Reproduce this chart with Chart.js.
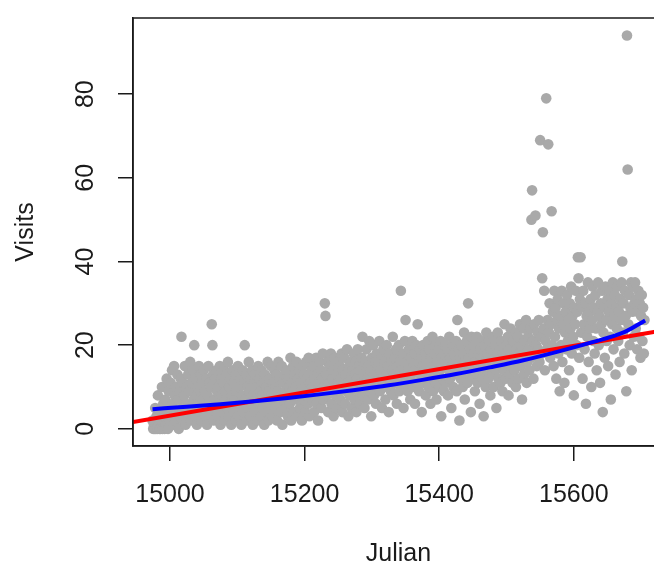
<!DOCTYPE html>
<html>
<head>
<meta charset="utf-8">
<script src="https://cdn.jsdelivr.net/npm/chart.js@4.4.1/dist/chart.umd.min.js"></script>
<style>
  body { margin: 0; overflow: hidden; background: #fff; }
  canvas { display: block; }
</style>
</head>
<body>
<canvas id="visits" width="680" height="567"></canvas>
<script>
// daily visits, first value is Julian day 14974
var firstDay = 14974;
var visits = [
  2,0,1,0,5,0,3,0,8,1,0,4,0,2,10,0,6,3,
  0,7,1,12,4,0,9,2,5,11,3,14,6,1,15,8,2,10,4,13,
  7,0,9,3,12,22,5,11,2,8,15,1,6,10,4,13,3,9,16,2,
  11,5,14,7,20,3,12,8,1,10,6,15,4,9,13,2,11,7,14,5,
  9,3,12,1,8,15,6,11,4,10,25,20,13,2,7,12,5,14,9,3,
  10,6,15,1,12,8,4,11,14,2,9,7,13,5,16,3,10,6,12,1,
  8,14,4,11,7,2,13,9,5,15,3,10,6,12,1,8,14,4,11,20,
  7,13,2,10,5,16,9,3,12,6,14,1,8,11,4,13,7,10,2,15,
  6,12,9,3,14,8,5,11,1,13,7,10,4,16,2,9,12,6,15,8,
  3,11,7,14,5,10,13,2,9,16,6,12,4,8,15,1,11,7,13,9,
  5,14,8,3,12,10,6,17,2,11,9,15,4,13,7,10,16,3,12,8,
  14,5,11,9,2,15,7,13,10,4,16,8,12,6,17,3,11,9,14,7,
  10,15,4,12,8,17,6,13,2,11,16,9,14,5,12,18,7,10,30,27,
  13,8,16,4,11,15,9,18,6,12,14,3,10,17,8,13,5,16,11,9,
  15,7,12,18,4,14,10,17,6,13,9,19,11,3,15,8,16,12,5,14,
  10,18,7,13,16,4,12,19,9,15,6,14,11,17,22,8,13,5,16,10,
  19,12,7,15,21,9,14,3,17,11,20,8,13,16,6,18,10,15,12,21,
  9,14,17,5,12,19,11,16,7,13,20,10,15,4,18,12,9,16,14,22,
  8,13,17,11,19,6,15,12,20,9,16,33,14,10,18,5,13,21,26,11,
  16,9,14,19,12,7,17,13,21,10,15,18,6,14,20,11,25,16,9,19,
  13,17,4,15,20,11,14,18,8,16,12,21,10,19,14,6,17,13,22,9,
  15,18,11,20,7,16,13,19,10,14,21,3,17,12,18,9,15,20,11,16,
  19,8,14,22,12,17,5,15,20,10,18,13,16,21,9,26,14,19,2,17,
  12,20,15,10,18,23,7,16,13,21,11,30,17,14,19,4,22,15,12,18,
  20,9,16,13,22,11,18,15,6,19,14,21,12,17,3,20,16,10,23,14,
  18,12,21,15,8,19,16,13,22,10,17,20,14,5,18,23,12,16,19,11,
  21,15,9,18,14,25,17,12,20,16,22,8,19,13,24,15,18,11,21,17,
  14,23,10,19,16,22,12,18,25,15,20,7,17,24,13,21,18,26,11,16,
  22,19,14,24,17,50,57,21,12,25,18,51,20,15,23,19,26,16,69,22,
  18,36,47,24,33,14,21,79,19,26,68,23,30,17,25,52,20,28,15,33,
  22,29,12,26,31,18,24,9,27,20,33,16,25,30,11,23,28,19,32,21,
  26,14,30,24,34,18,27,22,8,29,25,33,20,28,41,36,17,31,41,23,
  29,12,33,25,19,30,6,27,22,35,16,28,24,31,10,26,34,21,29,18,
  32,24,14,28,35,20,27,11,30,25,33,4,23,29,17,34,26,21,31,15,
  28,33,22,7,30,25,35,19,27,32,13,29,24,34,21,28,16,31,26,35,
  40,23,30,18,33,27,9,94,62,25,32,20,29,35,14,28,34,22,30,35,
  24,31,19,28,33,22,30,17,27,32,21,29,18,26
];

// linear fit (red), ends at the plot edges
var redDays = [14945, 15734];
var redVals = [1.6, 23.6];

// smooth fit (blue)
var blueDays = [14974, 15025, 15075, 15125, 15175, 15225, 15275, 15325, 15375, 15425, 15475, 15525, 15575, 15625, 15675, 15706];
var blueVals = [4.7, 5.3, 5.9, 6.6, 7.4, 8.3, 9.3, 10.4, 11.7, 13.1, 14.7, 16.4, 18.4, 20.6, 23.1, 25.9];

var xTicks = [15000, 15200, 15400, 15600];
var yTicks = [0, 20, 40, 60, 80];

var FONT = "'Liberation Sans', Arial, sans-serif";
var INK = '#1a1a1a';

var points = visits.map(function (v, i) { return { x: firstDay + i, y: v }; });
var red = redDays.map(function (d, i) { return { x: d, y: redVals[i] }; });
var blue = blueDays.map(function (d, i) { return { x: d, y: blueVals[i] }; });

// box round the plot + rotated y tick labels, like base R
var rFrame = {
    id: 'rFrame',
    afterDraw: function (chart) {
        var c = chart.ctx, a = chart.chartArea;
        c.save();
        c.strokeStyle = INK;
        c.lineWidth = 1.5;
        c.strokeRect(a.left, a.top, a.right - a.left, a.bottom - a.top);
        var ys = chart.scales.y;
        c.fillStyle = INK;
        c.font = '25px ' + FONT;
        c.textAlign = 'center';
        c.textBaseline = 'middle';
        yTicks.forEach(function (t) {
            c.save();
            c.translate(86, ys.getPixelForValue(t));
            c.rotate(-Math.PI / 2);
            c.fillText(String(t), 0, 0);
            c.restore();
        });
        c.restore();
    }
};

var ctx = document.getElementById('visits').getContext('2d');
var myChart = new Chart(ctx, {
    type: 'scatter',
    data: {
        datasets: [{
            label: 'Visits',
            data: points,
            backgroundColor: '#A9A9A9',
            borderWidth: 0,
            pointRadius: 5.3,
            pointHoverRadius: 5.3,
            order: 3
        }, {
            label: 'linear',
            type: 'line',
            data: red,
            borderColor: '#FF0000',
            borderWidth: 4,
            pointRadius: 0,
            fill: false,
            order: 2
        }, {
            label: 'smooth',
            type: 'line',
            data: blue,
            borderColor: '#0000FF',
            borderWidth: 4,
            pointRadius: 0,
            fill: false,
            cubicInterpolationMode: 'monotone',
            order: 1
        }]
    },
    options: {
        responsive: false,
        animation: false,
        devicePixelRatio: 1,
        layout: { padding: { left: 0, top: 7, right: 16, bottom: 0 } },
        plugins: { legend: { display: false }, tooltip: { enabled: false } },
        scales: {
            x: {
                type: 'linear',
                min: 14945,
                max: 15734,
                afterBuildTicks: function (s) { s.ticks = xTicks.map(function (v) { return { value: v }; }); },
                afterFit: function (s) { s.height = 121; },
                grid: { drawOnChartArea: false, tickLength: 15, color: INK, lineWidth: 1.5 },
                border: { display: true, color: INK, width: 1.5 },
                ticks: {
                    color: INK, font: { family: FONT, size: 25 }, padding: 19, maxRotation: 0,
                    callback: function (v) { return String(v); }
                },
                title: { display: true, text: 'Julian', color: INK, font: { family: FONT, size: 25, lineHeight: 1 }, padding: { top: -3, bottom: 0 } }
            },
            y: {
                type: 'linear',
                min: -4.1,
                max: 98.2,
                afterBuildTicks: function (s) { s.ticks = yTicks.map(function (v) { return { value: v }; }); },
                afterFit: function (s) { s.width = 133; },
                grid: { drawOnChartArea: false, tickLength: 15, color: INK, lineWidth: 1.5 },
                border: { display: true, color: INK, width: 1.5 },
                ticks: { color: 'rgba(0,0,0,0)', font: { family: FONT, size: 25 } },
                title: { display: true, text: 'Visits', color: INK, font: { family: FONT, size: 25, lineHeight: 1 }, padding: { top: 14, bottom: 0 } }
            }
        }
    },
    plugins: [rFrame]
});
</script>
</body>
</html>
